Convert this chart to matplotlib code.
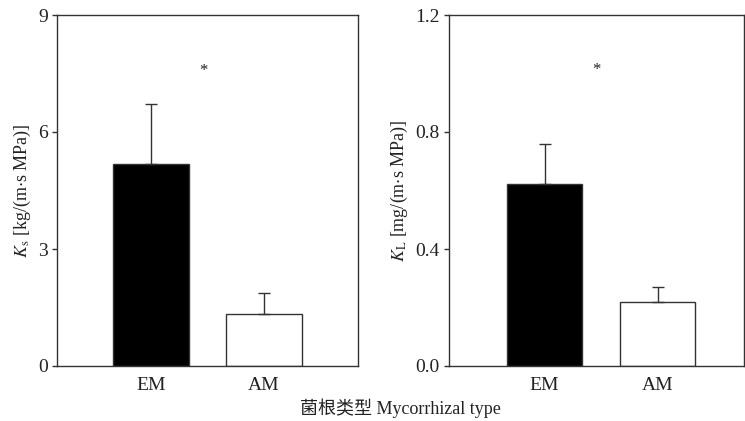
import matplotlib.pyplot as plt

plt.rcParams['font.family'] = ['Liberation Serif', 'Noto Sans CJK SC']
plt.rcParams['mathtext.fontset'] = 'stix'

groups = ["EM", "AM"]
ks_mean = [5.18, 1.33]
ks_err = [1.54, 0.54]
kl_mean = [0.622, 0.219]
kl_err = [0.137, 0.052]
ks_ticks = [0, 3, 6, 9]
kl_ticks = [0.0, 0.4, 0.8, 1.2]
ks_star = 7.57
kl_star = 1.012

edge = "#333333"
fig = plt.figure(figsize=(7.45, 4.21), dpi=100)
ax1 = fig.add_axes([57/745, 55/421, 301/745, 351/421])
ax2 = fig.add_axes([449/745, 55/421, 295/745, 351/421])

x = [0, 1]
for ax, m, e, ticks, star, lab, fmt, xl in [
    (ax1, ks_mean, ks_err, ks_ticks, ks_star, r'$K_\mathrm{s}$ [kg/(m$\cdot$s MPa)]', "{:g}", (-0.83, 1.83)),
    (ax2, kl_mean, kl_err, kl_ticks, kl_star, r'$K_\mathrm{L}$ [mg/(m$\cdot$s MPa)]', "{:.1f}", (-0.845, 1.765)),
]:
    ax.bar(x, m, width=0.67, color=["black", "white"], edgecolor=edge, linewidth=1.0,
           yerr=[[0, 0], e], error_kw=dict(ecolor=edge, elinewidth=1.0, capsize=4.5, capthick=1.0))
    ax.set_xlim(*xl)
    ax.set_ylim(ticks[0], ticks[-1])
    ax.set_yticks(ticks)
    ax.set_yticklabels([fmt.format(t) for t in ticks])
    ax.set_xticks(x)
    ax.set_xticklabels(groups)
    ax.tick_params(axis='x', length=0, pad=8, labelsize=14, colors="#222222")
    ax.tick_params(axis='y', direction='out', length=3.5, width=1.0, color=edge, pad=3,
                   labelsize=14, labelcolor="#222222")
    for s in ax.spines.values():
        s.set_color(edge)
        s.set_linewidth(1.0)
    ax.set_ylabel(lab, fontsize=13, color="#222222", labelpad=4)
    ax.text(0.46, star, "*", ha="center", va="center", fontsize=12, color="#222222")

fig.text(400/745, 1 - 408/421, "菌根类型 Mycorrhizal type", ha="center", va="center",
         fontsize=13, color="#222222")

fig.savefig("out.png", dpi=100)
